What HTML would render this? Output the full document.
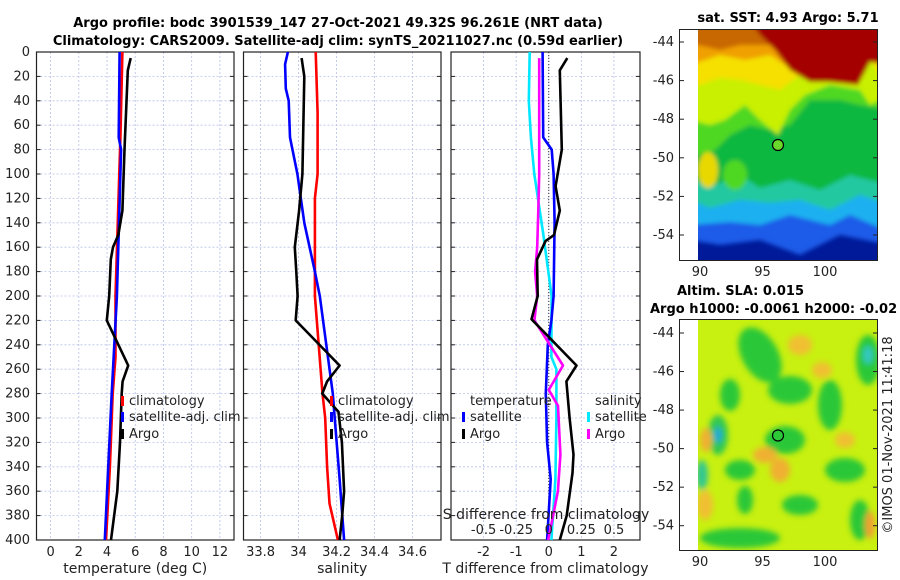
<!DOCTYPE html>
<html><head><meta charset="utf-8">
<style>
body{margin:0;background:#fff;}
svg{display:block;font-family:"DejaVu Sans","Liberation Sans",sans-serif;}
.tk{font-size:13px;fill:#222;}
.lab{font-size:13px;fill:#222;}
.axt{font-size:14px;fill:#222;}
.ttl{font-size:13px;font-weight:bold;fill:#000;}
</style></head>
<body>
<svg id="fig" width="900" height="580" viewBox="0 0 900 580" xmlns="http://www.w3.org/2000/svg">
<defs>
<filter id="bl" x="-10%" y="-10%" width="120%" height="120%"><feGaussianBlur stdDeviation="2"/></filter>
<filter id="bl2" x="-20%" y="-20%" width="140%" height="140%"><feGaussianBlur stdDeviation="3"/></filter>
<clipPath id="c1"><rect x="698" y="29" width="179" height="231"/></clipPath>
<clipPath id="c2"><rect x="698" y="319" width="179" height="231"/></clipPath>
</defs>
<text class="ttl" x="338" y="27" text-anchor="middle">Argo profile: bodc 3901539_147 27-Oct-2021 49.32S 96.261E (NRT data)</text>
<text class="ttl" x="338" y="45" text-anchor="middle">Climatology: CARS2009. Satellite-adj clim: synTS_20211027.nc (0.59d earlier)</text>
<g id="panels"></g>

<!-- SST map -->
<g>
<text class="ttl" x="788" y="22" text-anchor="middle">sat. SST: 4.93 Argo: 5.71</text>
<g clip-path="url(#c1)">
<rect x="698" y="29" width="179" height="231" fill="#001a9a"/>
<g filter="url(#bl)">
<polygon points="690,20 890,20 890,245 840,235 800,255 760,240 720,245 690,240" fill="#1a5ce8"/>
<polygon points="690,20 890,20 890,232 850,215 830,225 790,215 760,225 730,222 690,225" fill="#1fb0f0"/>
<polygon points="690,20 890,20 890,205 860,195 830,210 800,200 770,203 740,200 710,208 690,200" fill="#20c8a0"/>
<polygon points="690,20 890,20 890,185 850,175 820,190 790,180 760,188 740,175 715,185 690,180" fill="#10b840"/>
<polygon points="690,20 890,20 890,110 860,105 840,100 810,100 790,125 770,130 750,125 730,135 715,150 698,155 690,150" fill="#50d820"/>
<polygon points="690,20 890,20 890,95 870,105 860,90 830,85 805,95 790,110 778,135 760,120 745,105 725,120 710,125 690,120" fill="#c8f000"/>
<polygon points="690,20 890,20 890,90 870,60 855,80 830,75 800,75 780,90 760,85 740,80 720,78 700,85 690,85" fill="#f5e000"/>
<polygon points="690,20 890,20 890,60 850,62 820,70 790,68 770,55 745,60 720,55 690,65" fill="#f0a000"/>
<polygon points="690,20 890,20 890,45 740,45 720,50 698,45 690,45" fill="#c86800"/>
<polygon points="750,20 890,20 890,65 870,62 858,85 830,82 810,82 790,70 775,50 760,35" fill="#a40000"/>
<ellipse cx="735" cy="175" rx="12" ry="15" fill="#50d820"/>
<ellipse cx="708" cy="170" rx="10" ry="18" fill="#e8d800"/>
</g>
<circle cx="778" cy="145" r="5.5" fill="#6ad82a" stroke="#000" stroke-width="1.2"/>
</g>
<rect x="679.5" y="29.5" width="198" height="231" fill="none" stroke="#222"/>
</g>

<!-- SLA map -->
<g>
<text class="ttl" x="677" y="295" text-anchor="start">Altim. SLA: 0.015</text>
<text class="ttl" x="650" y="313" text-anchor="start">Argo h1000: -0.0061 h2000: -0.02</text>
<g clip-path="url(#c2)">
<rect x="698" y="319" width="179" height="231" fill="#c8f010"/>
<g filter="url(#bl2)">
<ellipse cx="760" cy="355" rx="18" ry="30" fill="#2cc838" transform="rotate(-30 760 355)"/>
<ellipse cx="790" cy="390" rx="22" ry="14" fill="#2cc838"/>
<ellipse cx="730" cy="395" rx="10" ry="16" fill="#2cc838"/>
<ellipse cx="718" cy="435" rx="10" ry="20" fill="#30c850"/>
<ellipse cx="718" cy="435" rx="4" ry="8" fill="#20a8d8"/>
<ellipse cx="785" cy="440" rx="20" ry="14" fill="#2cc838"/>
<ellipse cx="830" cy="405" rx="12" ry="25" fill="#2cc838"/>
<ellipse cx="868" cy="360" rx="12" ry="25" fill="#2cc838"/>
<ellipse cx="868" cy="355" rx="5" ry="9" fill="#30c8c0"/>
<ellipse cx="845" cy="470" rx="20" ry="12" fill="#2cc838"/>
<ellipse cx="740" cy="470" rx="15" ry="10" fill="#2cc838"/>
<ellipse cx="702" cy="475" rx="6" ry="15" fill="#30c890"/>
<ellipse cx="745" cy="500" rx="8" ry="14" fill="#2cc838"/>
<ellipse cx="800" cy="505" rx="18" ry="10" fill="#2cc838"/>
<ellipse cx="740" cy="538" rx="40" ry="10" fill="#2cc838"/>
<ellipse cx="860" cy="520" rx="10" ry="20" fill="#2cc838"/>
<ellipse cx="800" cy="345" rx="12" ry="10" fill="#f0c030"/>
<ellipse cx="765" cy="455" rx="12" ry="8" fill="#f0b030"/>
<ellipse cx="780" cy="470" rx="10" ry="12" fill="#f0b030"/>
<ellipse cx="706" cy="440" rx="6" ry="12" fill="#f0b030"/>
<ellipse cx="705" cy="505" rx="8" ry="15" fill="#f0c030"/>
<ellipse cx="845" cy="440" rx="10" ry="8" fill="#f0c030"/>
<ellipse cx="822" cy="370" rx="10" ry="8" fill="#f0c030"/>
<ellipse cx="870" cy="525" rx="5" ry="14" fill="#f0a030"/>
</g>
<circle cx="778" cy="435.5" r="5.5" fill="#2cc838" stroke="#000" stroke-width="1.2"/>
</g>
<rect x="679.5" y="319.5" width="198" height="231" fill="none" stroke="#222"/>
<text x="892" y="435" font-size="13" fill="#222" text-anchor="middle" transform="rotate(-90 892 435)">©IMOS 01-Nov-2021 11:41:18</text>
</g>
<g id="mapaxes"></g>
</svg>
<script>
// ---- data ----
const depthTicks = [0,20,40,60,80,100,120,140,160,180,200,220,240,260,280,300,320,340,360,380,400];
const tempTicks = [0,2,4,6,8,10,12];
const salTicks = [33.8,34,34.2,34.4,34.6];
const salTickLabels = ["33.8","34","34.2","34.4","34.6"];
const tdTicks = [-2,-1,0,1,2];
const sdTicks = [-0.5,-0.25,0,0.25,0.5];
const sdTickLabels = ["-0.5","-0.25","0","0.25","0.5"];

const tClimDepth = [0,70,200,250,280,340,400];
const tClimVal = [5.09,4.95,4.6,4.6,4.4,4.2,3.93];
const tSatDepth = [0,70,80,200,280,400];
const tSatVal = [4.89,4.83,5.0,4.7,4.33,3.84];
const tArgoDepth = [5,15,80,130,150,160,170,200,220,257,270,280,320,360,400];
const tArgoVal = [5.68,5.47,5.24,5.09,4.8,4.42,4.27,4.15,3.98,5.5,5.1,5.04,4.92,4.73,4.28];

const sClimDepth = [0,50,100,120,200,280,300,340,370,400];
const sClimVal = [34.09,34.1,34.1,34.086,34.086,34.126,34.14,34.15,34.163,34.207];
const sSatDepth = [0,10,30,40,70,100,140,180,200,280,300,350,400];
const sSatVal = [33.944,33.929,33.933,33.948,33.955,33.994,34.03,34.086,34.112,34.18,34.19,34.216,34.24];
const sArgoDepth = [5,20,100,130,160,180,200,220,257,270,280,295,320,360,380,400];
const sArgoVal = [34.016,34.03,34.02,34.003,33.98,33.988,33.995,33.985,34.216,34.15,34.125,34.21,34.228,34.24,34.23,34.216];

const dtSatDepth = [0,70,80,100,140,200,220,240,280,320,350,400];
const dtSatVal = [-0.19,-0.17,0.09,0.15,0.18,0.15,0.08,-0.03,-0.09,-0.05,0.06,-0.05];
const dtArgoDepth = [5,15,80,110,130,150,155,170,200,219,257,270,300,330,345,380,400];
const dtArgoVal = [0.57,0.34,0.4,0.21,0.34,0.16,-0.1,-0.36,-0.34,-0.53,0.85,0.54,0.64,0.76,0.73,0.55,0.34];
const dsSatDepth = [0,40,70,100,150,200,250,260,300,350,400];
const dsSatVal = [-0.146,-0.153,-0.137,-0.111,-0.041,0.022,0.02,0.059,0.059,0.051,0.02];
const dsArgoDepth = [5,100,130,160,180,200,220,257,277,290,330,360,380,400];
const dsArgoVal = [-0.073,-0.073,-0.08,-0.089,-0.105,-0.089,-0.11,0.109,0.0,0.071,0.089,0.07,0.033,-0.005];

const lonTicks = [90,95,100];
const latTicks = [-44,-46,-48,-50,-52,-54];

// ---- drawing ----
const NS="http://www.w3.org/2000/svg";
const root=document.getElementById('panels');
function mk(tag,attrs,parent){const e=document.createElementNS(NS,tag);for(const k in attrs)e.setAttribute(k,attrs[k]);(parent||root).appendChild(e);return e;}
const Y0=52,Y1=540;
function yD(d){return Y0+(d/400)*(Y1-Y0);}

const panels=[
 {x0:36.5,x1:234,min:-1,max:13,ticks:tempTicks,labels:tempTicks.map(String),xlabel:"temperature (deg C)",name:"temperature"},
 {x0:243.5,x1:441,min:33.71,max:34.75,ticks:salTicks,labels:salTickLabels,xlabel:"salinity",name:"salinity"},
 {x0:451,x1:640,min:-3,max:2.8,ticks:tdTicks,labels:tdTicks.map(String),xlabel:"T difference from climatology",name:"difference"}
];
panels.forEach(p=>{p.sx=v=>p.x0+(v-p.min)/(p.max-p.min)*(p.x1-p.x0);});

panels.forEach((p,i)=>{
  const g=mk('g',{});
  
  
  depthTicks.forEach(d=>{
    const l=mk('line',{x1:p.x0,x2:p.x1,y1:yD(d),y2:yD(d),stroke:'#b8c0e8','stroke-width':0.8,'stroke-dasharray':'2,2'},g);
    
    
    mk('line',{x1:p.x0,x2:p.x0+4,y1:yD(d),y2:yD(d),stroke:'#222'},g);
    mk('line',{x1:p.x1,x2:p.x1-4,y1:yD(d),y2:yD(d),stroke:'#222'},g);
  });
  p.ticks.forEach((t,j)=>{
    const x=p.sx(t);
    const l=mk('line',{x1:x,x2:x,y1:Y0,y2:Y1,stroke:'#b8c0e8','stroke-width':0.8,'stroke-dasharray':'2,2'},g);
    
    
    const tx=mk('text',{x:x,y:Y1+16,'text-anchor':'middle',class:'tk'},g);
    tx.textContent=p.labels[j];
    
    
  });
  const fr=mk('rect',{x:p.x0,y:Y0,width:p.x1-p.x0,height:Y1-Y0,fill:'none',stroke:'#222','stroke-width':1.2},g);
  
  
  const xl=mk('text',{x:(p.x0+p.x1)/2,y:Y1+33,'text-anchor':'middle',class:'axt'},g);
  xl.textContent=p.xlabel;
  
  
});
// depth labels
depthTicks.forEach(d=>{
  const t=mk('text',{x:30,y:yD(d)+4,'text-anchor':'end',class:'tk'});
  t.textContent=d;
  
  
});
// zero line diff panel
const P3=panels[2];
const zl=mk('line',{x1:P3.sx(0),x2:P3.sx(0),y1:yD(0),y2:Y1,stroke:'#333','stroke-width':1,'stroke-dasharray':'1,2'});



function line(p,scale,ds,vs,color,name){
  const pts=ds.map((d,i)=>scale(vs[i]).toFixed(1)+','+yD(d).toFixed(1)).join(' ');
  const e=mk('polyline',{points:pts,fill:'none',stroke:color,'stroke-width':2.6,'stroke-linejoin':'round'});
  
  
}
const P1=panels[0],P2=panels[1];
line(P1,P1.sx,tClimDepth,tClimVal,'#ff0000','temp-climatology-line');
line(P1,P1.sx,tSatDepth,tSatVal,'#0000ff','temp-satellite-line');
line(P1,P1.sx,tArgoDepth,tArgoVal,'#000','temp-argo-line');
line(P2,P2.sx,sClimDepth,sClimVal,'#ff0000','sal-climatology-line');
line(P2,P2.sx,sSatDepth,sSatVal,'#0000ff','sal-satellite-line');
line(P2,P2.sx,sArgoDepth,sArgoVal,'#000','sal-argo-line');
const sdx=v=>P3.sx(v*4);
line(P3,sdx,dsSatDepth,dsSatVal,'#00e8ff','sdiff-satellite-line');
line(P3,P3.sx,dtSatDepth,dtSatVal,'#0000ff','tdiff-satellite-line');
line(P3,sdx,dsArgoDepth,dsArgoVal,'#ff00ff','sdiff-argo-line');
line(P3,P3.sx,dtArgoDepth,dtArgoVal,'#000','tdiff-argo-line');

// S-diff secondary axis labels
const sdt=mk('text',{x:546,y:519,'text-anchor':'middle',class:'axt'});
sdt.textContent='S difference from climatology';


sdTicks.forEach((v,j)=>{
  const t=mk('text',{x:sdx(v),y:534,'text-anchor':'middle',class:'tk'});
  t.textContent=sdTickLabels[j];
  
  
});

function legend(x,y,color,label,name){
  const g=mk('g',{});
  
  
  mk('rect',{x:x,y:y-9,width:3,height:10,fill:color},g);
  const t=mk('text',{x:x+8,y:y,class:'lab'},g);
  t.textContent=label;
}
legend(121,405,'#ff0000','climatology','legend-climatology');
legend(121,421,'#0000ff','satellite-adj. clim','legend-satellite');
legend(121,438,'#000','Argo','legend-argo');
legend(330,405,'#ff0000','climatology','legend-sal-climatology');
legend(330,421,'#0000ff','satellite-adj. clim','legend-sal-satellite');
legend(330,438,'#000','Argo','legend-sal-argo');
const lt=mk('text',{x:470,y:405,class:'lab'});lt.textContent='temperature';


const ls=mk('text',{x:595,y:405,class:'lab'});ls.textContent='salinity';


legend(462,421,'#0000ff','satellite','legend-tdiff-satellite');
legend(462,438,'#000','Argo','legend-tdiff-argo');
legend(587,421,'#00e8ff','satellite','legend-sdiff-satellite');
legend(587,438,'#ff00ff','Argo','legend-sdiff-argo');

// map axes
const ma=document.getElementById('mapaxes');
[[42,19.3,261,'sst'],[333,19.27,551,'sla']].forEach(([yTop,per,yb,nm])=>{
  latTicks.forEach(la=>{
    const y=yTop+(-44-la)*per;
    const t=mk('text',{x:674,y:y+4,'text-anchor':'end',class:'tk'},ma);
    t.textContent=la;
    
    
    mk('line',{x1:877,x2:873,y1:y,y2:y,stroke:'#222'},ma);
    mk('line',{x1:680,x2:684,y1:y,y2:y,stroke:'#222'},ma);
  });
  lonTicks.forEach(lo=>{
    const x=700+(lo-90)*12.5;
    const t=mk('text',{x:x,y:yb+15,'text-anchor':'middle',class:'tk'},ma);
    t.textContent=lo;
    
    
  });
});
</script>
</body></html>
